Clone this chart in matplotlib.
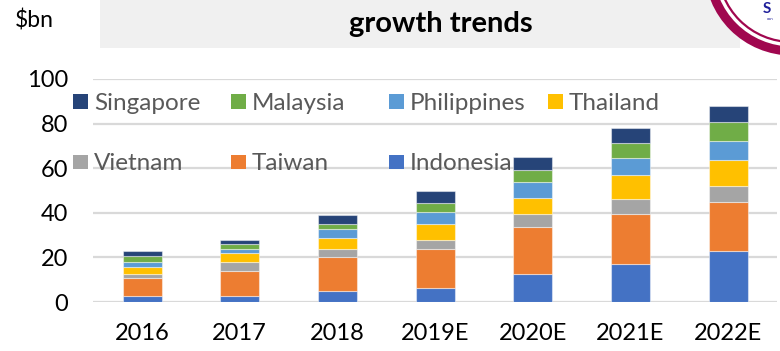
import matplotlib.pyplot as plt
from matplotlib.patches import Rectangle, Circle
import numpy as np

plt.rcParams['font.family'] = ['Lato', 'DejaVu Sans']

# --- data ($bn) ---
years = ['2016', '2017', '2018', '2019E', '2020E', '2021E', '2022E']
indonesia = [2.8, 2.8, 4.8, 6.5, 12.6, 17.0, 23.0]
taiwan = [7.8, 11.0, 15.2, 17.4, 21.2, 22.5, 22.0]
vietnam = [2.1, 4.0, 3.6, 4.0, 5.7, 6.6, 7.2]
thailand = [3.0, 4.2, 5.2, 7.0, 7.0, 10.7, 11.3]
philippines = [2.1, 1.9, 3.8, 5.3, 7.2, 7.9, 8.5]
malaysia = [3.0, 2.0, 2.5, 4.3, 5.5, 6.7, 8.7]
singapore = [2.1, 1.9, 3.9, 5.4, 5.7, 6.4, 7.2]

series = [
    ('Indonesia', indonesia, '#4472C4'),
    ('Taiwan', taiwan, '#ED7D31'),
    ('Vietnam', vietnam, '#A5A5A5'),
    ('Thailand', thailand, '#FFC000'),
    ('Philippines', philippines, '#5B9BD5'),
    ('Malaysia', malaysia, '#70AD47'),
    ('Singapore', singapore, '#264478'),
]
colors = {name: c for name, _, c in series}

fig = plt.figure(figsize=(7.8, 3.51), dpi=100)
ax = fig.add_axes([0.1195, 0.1396, 0.8765, 0.6354])

x = np.arange(len(years))
bottom = np.zeros(len(years))
for name, vals, col in series:
    ax.bar(x, vals, width=0.4, bottom=bottom, color=col,
           edgecolor=(1, 1, 1, 0.45), linewidth=0.8, zorder=3)
    bottom += np.array(vals)

ax.set_xlim(-0.5, len(years) - 0.5)
ax.set_ylim(0, 100)
ax.set_yticks(range(0, 101, 20))
ax.set_xticks(x)
ax.set_xticklabels(years)
ax.tick_params(axis='both', length=0, labelsize=17, colors='black')
ax.tick_params(axis='x', pad=15)
ax.tick_params(axis='y', pad=18)
ax.grid(axis='y', color='#D9D9D9', linewidth=1.6, zorder=0)
for s in ax.spines.values():
    s.set_visible(False)

# legend: two rows of coloured squares with labels, Excel style
legend_rows = [['Singapore', 'Malaysia', 'Philippines', 'Thailand'],
               ['Vietnam', 'Taiwan', 'Indonesia']]
row_y = [101, 162]
col_x = [73, 231, 389, 548]
W, H = 780, 351
for r, names in enumerate(legend_rows):
    for c, name in enumerate(names):
        x0 = col_x[c]
        y0 = row_y[r]
        fig.patches.append(Rectangle((x0 / W, (H - y0 - 7.5) / H), 15 / W, 15 / H,
                                     transform=fig.transFigure,
                                     facecolor=colors[name], edgecolor='none', zorder=5))
        fig.text((x0 + 21) / W, (H - y0) / H, name, fontsize=17.5, color='#595959',
                 ha='left', va='center_baseline', zorder=6)

# header band with title
fig.patches.append(Rectangle((100 / W, (H - 48) / H), 640 / W, 48 / H,
                             transform=fig.transFigure, facecolor='#F0F0F0',
                             edgecolor='none', zorder=0))
fig.text(441 / W, (H - 24) / H, 'growth trends', fontsize=21, fontweight='bold',
         ha='center', va='center', color='black')
fig.text(15 / W, (H - 20) / H, '$bn', fontsize=16.5, ha='left', va='center', color='black')

# logo ring in the top-right corner
logo = fig.add_axes([0, 0, 1, 1], facecolor='none')
logo.set_zorder(10)
logo.set_xlim(0, W)
logo.set_ylim(H, 0)
logo.axis('off')
logo.add_patch(Circle((792, -32), 83, facecolor='white', edgecolor='#A0074F',
                      linewidth=6.5, zorder=2))
logo.add_patch(Circle((792, -32), 74, facecolor='white', edgecolor='#A0074F',
                      linewidth=1.6, zorder=3))
logo.text(767, 9, 'S', fontsize=11, fontweight='bold', color='#1F1F9A',
          ha='center', va='center', zorder=4)
logo.text(770, 19, 'con', fontsize=3, color='#1F1F9A', ha='center', va='center', zorder=4)

fig.savefig('out.png', dpi=100)
